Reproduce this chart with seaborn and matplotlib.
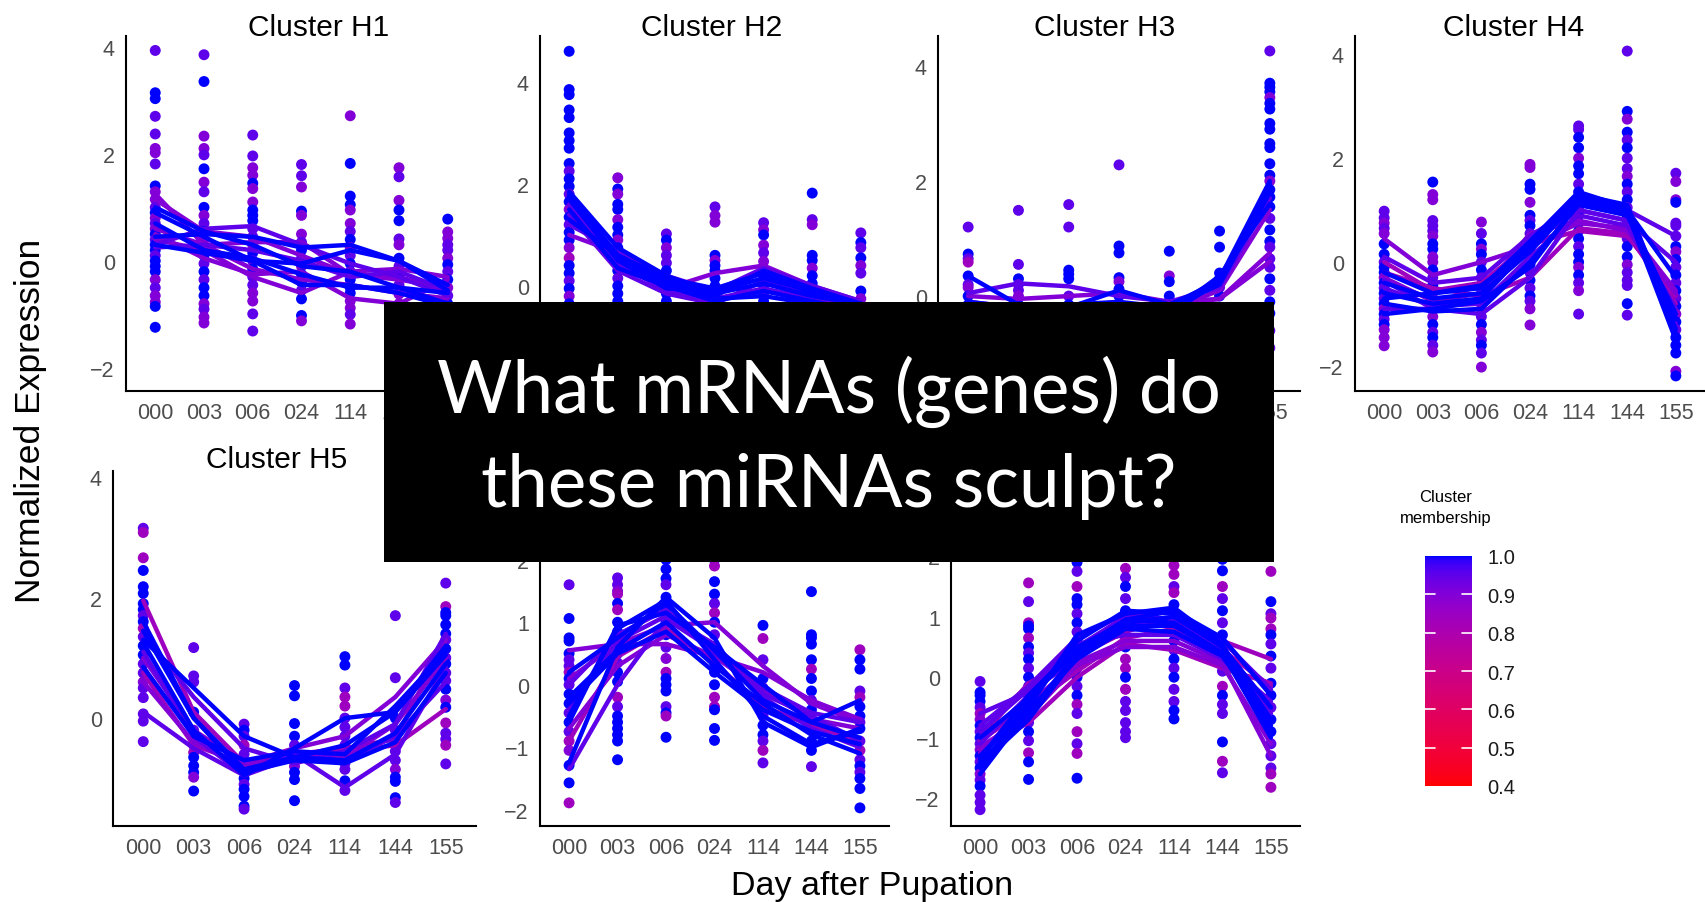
import numpy as np
import pandas as pd
import matplotlib
matplotlib.use("Agg")
import matplotlib.pyplot as plt
import seaborn as sns
from matplotlib.colors import ListedColormap, Normalize
from matplotlib.patches import Rectangle
import matplotlib.cm as cm

# ---------------------------------------------------------------- data
TIMES = ["000", "003", "006", "024", "114", "144", "155"]
CLUSTERS = ["H1", "H2", "H3", "H4", "H5", "H6", "H7"]
# membership codes used below (b = blue, v = violet, p = purple, m = magenta)
MEMBERSHIP_LEVEL = {"b": 1.0, "v": 0.95, "p": 0.9, "m": 0.84}
COLORBAR_TICKS = [0.4, 0.5, 0.6, 0.7, 0.8, 0.9, 1.0]

H1_POINTS = [
    [3.93, 3.14, 3.03, 2.7, 2.37, 2.1, 2.02, 1.81, 1.4, 1.29, 1.15, 1.0, 0.9, 0.8, 0.7, 0.6, 0.5, 0.4, 0.3, 0.2, 0.1, 0.0, -0.1, -0.2, -0.35, -0.5, -0.65, -0.77, -0.85, -1.24],
    [3.85, 3.35, 2.33, 2.1, 1.98, 1.72, 1.47, 1.29, 1.0, 0.85, 0.7, 0.55, 0.4, 0.25, 0.1, -0.05, -0.2, -0.35, -0.5, -0.65, -0.8, -0.9, -1.05, -1.16],
    [2.35, 1.96, 1.74, 1.6, 1.45, 1.35, 1.1, 0.95, 0.85, 0.75, 0.6, 0.45, 0.3, 0.15, 0.0, -0.15, -0.3, -0.45, -0.6, -0.75, -0.99, -1.31],
    [1.8, 1.59, 1.38, 0.93, 0.85, 0.5, 0.35, 0.2, 0.05, -0.1, -0.25, -0.4, -0.55, -0.71, -1.02, -1.12],
    [2.71, 1.82, 1.21, 1.05, 0.95, 0.7, 0.55, 0.4, 0.25, 0.1, -0.05, -0.2, -0.35, -0.5, -0.6, -0.75, -0.88, -1.0, -1.18],
    [1.74, 1.57, 1.13, 0.95, 0.75, 0.41, 0.3, 0.05, -0.1, -0.3, -0.45, -0.62, -0.8, -0.95],
    [0.78, 0.54, 0.42, 0.3, 0.2, 0.05, -0.07, -0.2, -0.35, -0.5, -0.65, -0.8, -0.95, -1.1],
]
H1_POINT_MEMBERSHIP = ["vbbvvppvbppvbpvpbvbbvbbbpvppbb", "vbppvbpvbpvbpvbvbvbbpvpp", "vvppbppbbbvvpbvbvvppvv",
                       "vvpbppvbvpbbvbbp", "pbbbppvbpvbvbbbppvp", "pvpbbvpbvbvppv", "bppvvpbvbpvbvb"]
H1_LINES = [
    [1.25, 0.3, -0.15, -0.35, -0.45, -0.6, -0.7],
    [1.15, 0.55, 0.45, 0.1, -0.25, -0.3, -0.55],
    [1.0, 0.55, 0.3, -0.1, -0.2, -0.5, -0.8],
    [0.9, 0.45, 0.0, -0.45, -0.45, -0.6, -0.85],
    [0.6, 0.3, 0.35, 0.35, -0.25, -0.35, -0.5],
    [0.4, 0.2, -0.3, -0.6, -0.2, -0.15, -0.3],
    [0.45, 0.5, 0.45, 0.25, 0.3, 0.0, -0.45],
    [0.3, 0.15, 0.0, -0.05, 0.2, 0.0, -0.55],
    [0.3, 0.6, 0.65, 0.3, -0.05, -0.3, -0.65],
    [0.7, 0.2, 0.05, -0.25, -0.5, -0.5, -0.6],
    [0.5, 0.05, -0.25, -0.2, -0.7, -0.8, -0.35],
    [0.25, 0.3, 0.2, 0.0, -0.3, -0.2, -0.55],
]
H1_LINE_MEMBERSHIP = "ppbbppbbvbpv"

H2_POINTS = [
    [4.6, 3.85, 3.75, 3.45, 3.3, 3.0, 2.85, 2.7, 2.4, 2.25, 2.1, 1.95, 1.8, 1.65, 1.5, 1.35, 1.2, 1.05, 0.9, 0.75, 0.55, 0.4, 0.25, 0.1, -0.05, -0.2, -0.35, -0.6, -0.9, -1.2, -1.5],
    [2.12, 1.9, 1.8, 1.6, 1.5, 1.3, 1.15, 1.0, 0.9, 0.75, 0.6, 0.45, 0.3, 0.15, 0.0, -0.15, -0.3, -0.6, -0.9, -1.2],
    [1.02, 0.9, 0.75, 0.6, 0.45, 0.3, 0.15, 0.0, -0.15, -0.3, -0.6, -0.9],
    [1.55, 1.38, 1.25, 0.6, 0.5, 0.4, 0.3, 0.15, 0.0, -0.15, -0.3, -0.6, -0.9],
    [1.24, 1.1, 1.0, 0.8, 0.65, 0.48, 0.3, 0.15, 0.0, -0.15, -0.3, -0.6],
    [1.82, 1.3, 1.2, 0.6, 0.5, 0.35, 0.2, 0.05, -0.1, -0.25, -0.5, -0.8],
    [1.04, 0.85, 0.75, 0.55, 0.4, 0.25, -0.1, -0.25, -0.5, -0.8, -1.1],
]
H2_POINT_MEMBERSHIP = ["bbbbbbbbbvbbvbpbvbbpmbbvbpbbvbb", "pbpbbpbbpbvbbvbbbbvb", "vbpvvbbpbbvb",
                       "vppbpbbbbbvbb", "vpbpvpbbbvbb", "bvpbbpbbbvbb", "vbvbpvbpbbv"]
H2_LINES = [
    [1.85, 0.75, 0.2, -0.15, 0.05, -0.2, -0.35],
    [1.8, 0.6, 0.1, -0.2, 0.3, -0.05, -0.35],
    [1.7, 0.5, -0.05, -0.1, 0.15, -0.1, -0.4],
    [1.6, 0.45, -0.1, -0.25, -0.05, -0.25, -0.45],
    [1.5, 0.35, 0.0, -0.3, -0.1, -0.3, -0.5],
    [1.4, 0.3, -0.15, -0.35, 0.1, -0.2, -0.4],
    [1.3, 0.6, 0.15, -0.05, 0.25, -0.15, -0.35],
    [1.0, 0.65, -0.05, 0.25, 0.4, 0.0, -0.3],
    [1.2, 0.7, 0.2, -0.1, 0.35, 0.0, -0.3],
    [1.75, 0.55, 0.05, -0.25, -0.2, -0.35, -0.5],
]
H2_LINE_MEMBERSHIP = "bbbvbvbpvb"

H3_POINTS = [
    [1.2, 0.73, 0.65, 0.59, 0.35, 0.2, 0.15, 0.0, -0.15, -0.3, -0.5, -0.8],
    [1.49, 0.55, 0.3, 0.2, 0.1, 0.0, -0.15, -0.3, -0.6],
    [1.59, 1.2, 0.45, 0.38, 0.3, 0.0, -0.15, -0.3, -0.6],
    [2.28, 0.87, 0.75, 0.32, 0.25, 0.12, 0.0, -0.2, -0.5],
    [0.78, 0.35, 0.25, 0.0, -0.1, -0.25, -0.5],
    [1.13, 0.85, 0.4, 0.3, 0.15, 0.0, -0.2, -0.4],
    [4.26, 3.7, 3.63, 3.55, 3.45, 3.35, 3.25, 3.0, 2.9, 2.65, 2.58, 2.3, 2.1, 2.0, 1.85, 1.72, 1.55, 1.35, 1.15, 0.95, 0.85, 0.65, 0.5, 0.3, 0.1, -0.1, -0.3, -0.6, -0.9],
]
H3_POINT_MEMBERSHIP = ["vbvmbvpbbbvb", "vvbvvpbbb", "vvbbbvbbv", "vbbbpbbbb", "bpbbbvb", "bbbbvbbb",
                       "vbbbpbbbbbbbbpbbbvbbvvvbvbbvv"]
H3_LINES = [
    [0.35, -0.15, -0.2, 0.1, -0.15, 0.25, 1.95],
    [0.05, 0.22, 0.17, 0.0, -0.1, 0.15, 1.7],
    [0.0, -0.05, 0.0, 0.05, -0.1, -0.05, 0.75],
    [-0.1, -0.2, -0.15, -0.1, -0.2, 0.2, 1.8],
    [-0.15, -0.3, -0.25, -0.2, -0.2, 0.3, 2.0],
    [-0.2, -0.25, -0.3, -0.2, -0.25, 0.1, 1.5],
    [-0.25, -0.35, -0.3, -0.3, -0.3, 0.25, 1.85],
    [-0.1, -0.2, -0.2, -0.25, -0.15, -0.05, 0.6],
    [-0.2, -0.3, -0.35, -0.25, -0.3, 0.35, 1.6],
]
H3_LINE_MEMBERSHIP = "bvpbbpbpb"

H4_POINTS = [
    [0.98, 0.85, 0.75, 0.65, 0.55, 0.35, 0.15, 0.0, -0.1, -0.2, -0.3, -0.4, -0.5, -0.6, -0.7, -0.8, -0.9, -1.0, -1.1, -1.2, -1.3, -1.45, -1.61],
    [1.54, 1.3, 1.2, 0.8, 0.7, 0.6, 0.5, 0.35, 0.25, 0.1, 0.0, -0.15, -0.3, -0.45, -0.6, -0.75, -0.9, -1.05, -1.2, -1.35, -1.45, -1.6, -1.73],
    [0.77, 0.55, 0.35, 0.25, 0.15, 0.0, -0.15, -0.3, -0.45, -0.6, -0.75, -0.9, -1.05, -1.2, -1.35, -1.5, -1.6, -1.75, -2.02],
    [1.88, 1.82, 1.5, 1.4, 1.15, 0.9, 0.8, 0.7, 0.55, 0.4, 0.25, 0.1, -0.05, -0.2, -0.35, -0.5, -0.65, -0.75, -0.9, -1.21],
    [2.62, 2.55, 2.4, 2.2, 2.0, 1.85, 1.7, 1.5, 1.35, 1.2, 1.05, 0.9, 0.75, 0.6, 0.45, 0.3, 0.15, 0.0, -0.1, -0.25, -0.4, -0.55, -1.0],
    [4.06, 2.9, 2.75, 2.5, 2.35, 2.2, 2.0, 1.8, 1.65, 1.5, 1.35, 1.2, 1.05, 0.9, 0.75, 0.6, 0.45, 0.3, 0.1, -0.05, -0.2, -0.35, -0.45, -0.8, -1.02],
    [1.71, 1.55, 1.2, 1.15, 0.75, 0.7, 0.5, 0.3, 0.2, 0.05, -0.1, -0.25, -0.4, -0.55, -0.7, -0.85, -1.0, -1.15, -1.3, -1.45, -1.6, -1.75, -2.1, -2.19],
]
H4_POINT_MEMBERSHIP = ["vvpvpbbvbbpbvbvbpbvbppp", "bppvvvpbbppbvbvbppbvbvp", "pvbpbvbvbvbpvbpvbvp",
                       "ppbbpbvbvbbvbvbvbvpp", "vvbbpbbvbbpbvbbvbbpbvpv", "vbpbvbvvpbvbvbvbvbbpvvvbv",
                       "vppbvvvbpbvbvbvbpbvbbbpb"]
H4_LINES = [
    [0.45, -0.25, 0.0, 0.3, 0.75, 0.65, -0.55],
    [-0.2, -0.5, -0.65, -0.3, 0.65, 0.55, -0.8],
    [-0.9, -0.9, -1.0, -0.3, 1.0, 0.8, -1.2],
    [-0.6, -0.8, -0.7, 0.3, 1.3, 1.1, -1.3],
    [-0.4, -0.7, -0.6, 0.2, 1.2, 1.0, -1.1],
    [-0.2, -0.6, -0.5, 0.4, 1.35, 1.05, -1.4],
    [0.1, -0.4, -0.3, 0.5, 1.1, 1.0, 0.5],
    [-0.8, -0.95, -0.9, 0.0, 1.1, 0.9, -1.0],
    [-0.5, -0.85, -0.8, 0.1, 0.9, 0.7, -0.9],
    [-0.3, -0.75, -0.6, 0.55, 0.8, 0.6, -0.6],
    [-0.7, -0.6, -0.45, 0.25, 1.25, 1.0, -0.3],
    [-1.0, -0.9, -0.75, -0.1, 1.15, 0.95, -1.5],
    [0.0, -0.55, -0.4, 0.35, 0.6, 0.5, -0.65],
    [-0.35, -0.9, -0.7, 0.45, 1.0, 0.8, 0.0],
]
H4_LINE_MEMBERSHIP = "pmvbbbvbvpbbmv"

H5_POINTS = [
    [3.15, 3.08, 2.66, 2.45, 2.18, 2.07, 1.9, 1.8, 1.7, 1.6, 1.49, 1.35, 1.2, 1.05, 0.9, 0.75, 0.6, 0.5, 0.34, 0.07, -0.05, -0.39],
    [1.17, 0.7, 0.6, 0.1, -0.2, -0.35, -0.45, -0.57, -0.65, -0.79, -0.9, -0.98, -1.21],
    [-0.1, -0.2, -0.3, -0.45, -0.6, -0.75, -0.85, -1.0, -1.1, -1.18, -1.3, -1.46, -1.51],
    [0.54, 0.37, -0.09, -0.3, -0.45, -0.6, -0.8, -0.9, -1.02, -1.37],
    [1.02, 0.88, 0.5, 0.35, 0.2, 0.0, -0.15, -0.3, -0.45, -0.6, -0.75, -0.85, -1.04, -1.2],
    [1.7, 0.67, 0.0, -0.2, -0.4, -0.55, -0.7, -0.85, -0.98, -1.05, -1.32, -1.4],
    [2.24, 1.85, 1.75, 1.7, 1.55, 1.4, 1.3, 1.15, 1.0, 0.9, 0.75, 0.62, 0.48, 0.3, 0.18, -0.08, -0.25, -0.35, -0.45, -0.76],
]
H5_POINT_MEMBERSHIP = ["vmmbbbbbvbmvbbvvpvvvvv", "vvvbvbmmbbbpb", "vbvmvpbbvbbbv", "bbbbvvpbbb",
                       "bbvmmvvvvbvvbv", "vvbvmvvpbbbv", "vmbbbbvbvbvvbpbmvvmv"]
H5_LINES = [
    [1.95, 0.1, -0.75, -0.6, -0.5, -0.35, 1.3],
    [1.4, 0.35, -0.5, -0.75, -0.55, -0.1, 1.4],
    [1.3, 0.5, -0.3, -0.65, -0.45, 0.1, 1.2],
    [1.25, -0.2, -0.95, -0.5, 0.0, 0.1, 1.05],
    [1.1, -0.3, -0.95, -0.6, -1.15, -0.6, 0.85],
    [0.1, -0.5, -0.95, -0.65, -0.7, -0.3, 0.6],
    [0.6, -0.4, -0.8, -0.6, -0.65, -0.1, 1.0],
    [0.85, -0.3, -0.7, -0.55, -0.6, 0.2, 1.1],
    [1.0, -0.2, -0.75, -0.5, -0.3, 0.35, 1.3],
    [1.45, 0.0, -0.85, -0.65, -0.7, -0.25, 0.9],
    [0.75, -0.45, -0.75, -0.65, -0.55, -0.45, 0.15],
    [1.6, 0.0, -0.9, -0.7, -0.75, -0.4, 0.75],
]
H5_LINE_MEMBERSHIP = "mvbbvvpbpbmb"

H6_POINTS = [
    [1.6, 1.06, 0.75, 0.7, 0.5, 0.4, 0.3, 0.2, 0.1, 0.0, -0.15, -0.3, -0.45, -0.6, -0.75, -0.9, -1.05, -1.29, -1.57, -1.89],
    [1.71, 1.6, 1.5, 1.45, 1.3, 1.2, 1.0, 0.85, 0.7, 0.5, 0.35, 0.2, 0.05, -0.2, -0.35, -0.5, -0.6, -0.7, -0.8, -0.9, -1.2],
    [2.9, 2.6, 2.35, 2.15, 2.0, 1.85, 1.7, 1.6, 1.4, 1.2, 1.0, 0.8, 0.6, 0.42, 0.2, 0.1, 0.0, -0.1, -0.35, -0.45, -0.5, -0.84],
    [2.7, 2.4, 2.15, 2.0, 1.9, 1.65, 1.45, 1.3, 1.15, 1.0, 0.8, 0.6, 0.35, 0.2, 0.0, -0.2, -0.35, -0.4, -0.7, -0.89],
    [0.95, 0.74, 0.4, 0.1, -0.05, -0.2, -0.35, -0.5, -0.65, -0.8, -0.9, -1.05, -1.25],
    [1.49, 0.8, 0.75, 0.65, 0.4, 0.25, 0.1, -0.1, -0.25, -0.4, -0.55, -0.7, -0.9, -1.05, -1.31],
    [0.56, 0.4, 0.25, -0.1, -0.2, -0.35, -0.5, -0.6, -0.7, -0.9, -1.05, -1.2, -1.3, -1.4, -1.5, -1.66, -1.97],
]
H6_POINT_MEMBERSHIP = ["vbbbbvvmbvbbvbvmpbbm", "vvpmbmbbvbvbbmvbbbbbb", "bbbbbbbvbbbbvpmbbbvbmb",
                       "bbbbmbbvmbvbbbbmmbbb", "bmvbvbbvbbvmv", "bbbbbmbbvbvmbbv", "mbbvmbbvbvmvbvbbb"]
H6_LINES = [
    [0.55, 0.65, 0.65, 0.45, 0.2, -0.25, -0.55],
    [-0.9, 0.45, 0.9, 0.35, -0.35, -0.65, -0.9],
    [-1.35, 0.0, 1.05, 0.55, -0.2, -0.7, -1.0],
    [-1.25, 0.6, 1.4, 0.75, -0.6, -1.0, -0.7],
    [0.2, 0.75, 1.3, 0.55, -0.25, -0.6, -0.85],
    [-0.5, 0.9, 1.35, 0.4, -0.5, -0.95, -0.75],
    [-0.2, 0.55, 1.0, 0.3, -0.3, -0.8, -1.1],
    [0.0, 0.8, 1.2, 0.5, -0.05, -0.45, -0.6],
    [-0.3, 0.5, 0.85, 0.2, -0.4, -0.75, -0.95],
    [-0.7, 0.3, 0.8, 0.45, -0.1, -0.55, -0.7],
    [0.1, 0.65, 0.95, 1.0, 0.3, -0.3, -0.6],
    [-0.6, 0.95, 1.15, 0.6, 0.0, -0.6, -0.25],
    [-0.4, 0.7, 1.1, 0.65, -0.15, -0.5, -0.9],
]
H6_LINE_MEMBERSHIP = "pmvbbbbvbppbv"

H7_POINTS = [
    [-0.07, -0.25, -0.3, -0.4, -0.5, -0.6, -0.7, -0.8, -0.9, -1.0, -1.1, -1.2, -1.3, -1.4, -1.5, -1.6, -1.7, -1.8, -1.95, -2.07, -2.19],
    [1.56, 1.25, 0.9, 0.85, 0.8, 0.65, 0.5, 0.4, 0.3, 0.15, 0.0, -0.15, -0.3, -0.45, -0.6, -0.75, -0.9, -1.05, -1.25, -1.4, -1.69],
    [2.7, 2.4, 2.1, 1.9, 1.75, 1.5, 1.3, 1.2, 1.05, 0.9, 0.75, 0.6, 0.45, 0.3, 0.15, 0.0, -0.15, -0.3, -0.45, -0.6, -0.9, -1.1, -1.26, -1.67],
    [2.8, 2.5, 2.2, 2.0, 1.8, 1.65, 1.5, 1.3, 1.1, 0.95, 0.8, 0.65, 0.5, 0.3, 0.15, 0.0, -0.2, -0.4, -0.55, -0.75, -0.9, -1.0],
    [2.9, 2.6, 2.3, 2.05, 1.85, 1.7, 1.5, 1.4, 1.2, 1.05, 0.9, 0.75, 0.6, 0.45, 0.3, 0.15, 0.0, -0.2, -0.4, -0.55, -0.69],
    [2.6, 2.2, 1.95, 1.76, 1.5, 1.3, 1.1, 0.9, 0.7, 0.5, 0.3, 0.1, -0.15, -0.3, -0.45, -0.6, -1.07, -1.39, -1.58],
    [1.75, 1.25, 1.05, 0.98, 0.8, 0.7, 0.55, 0.35, 0.15, -0.1, -0.3, -0.5, -0.7, -0.9, -1.1, -1.3, -1.5, -1.6, -1.82],
]
H7_POINT_MEMBERSHIP = ["vbbbvmpbvbvpbvbpvbvvv", "mvmbbmbvbvbvbpbvbvmbb", "bbvbvmbbvbvbvbvbvbmvmvmb",
                       "bbvbmvbvbvbvbmmbmvvvvv", "vmbvmmvmbvbvbvbvbvvbb", "bbbbmvbvbvbvmbvvbmv",
                       "mbvmmbvbvbbvbbvvvmm"]
H7_LINES = [
    [-0.6, -0.25, 0.3, 0.9, 0.95, 0.5, -0.5],
    [-1.0, -0.1, 0.35, 0.75, 1.0, 0.6, 0.3],
    [-1.2, -0.75, 0.0, 0.55, 0.45, 0.15, -0.1],
    [-1.5, -0.4, 0.6, 1.1, 1.05, 0.5, -0.7],
    [-1.3, -0.5, 0.7, 1.05, 1.15, 0.55, -0.9],
    [-1.1, -0.3, 0.5, 1.0, 0.9, 0.45, -0.6],
    [-1.4, -0.6, 0.4, 0.85, 0.85, 0.4, -1.0],
    [-0.9, -0.2, 0.55, 0.7, 0.7, 0.3, -0.4],
    [-1.25, -0.45, 0.25, 0.6, 0.6, 0.25, -1.3],
    [-1.0, -0.35, 0.45, 0.95, 1.1, 0.65, -0.3],
    [-1.6, -0.55, 0.3, 0.8, 0.75, 0.35, -0.8],
    [-0.8, -0.15, 0.65, 1.05, 0.95, 0.6, -0.2],
    [-1.15, -0.65, 0.2, 0.5, 0.5, 0.2, -1.1],
    [-1.35, -0.3, 0.5, 0.9, 1.0, 0.5, -0.5],
    [-1.05, -0.5, 0.1, 0.65, 0.8, 0.45, -0.15],
    [-1.45, -0.7, 0.35, 0.95, 0.9, 0.4, -0.7],
]
H7_LINE_MEMBERSHIP = "vmmbbvbvpbbvpbmb"

CLUSTER_DATA = {
    "H1": (H1_POINTS, H1_POINT_MEMBERSHIP, H1_LINES, H1_LINE_MEMBERSHIP),
    "H2": (H2_POINTS, H2_POINT_MEMBERSHIP, H2_LINES, H2_LINE_MEMBERSHIP),
    "H3": (H3_POINTS, H3_POINT_MEMBERSHIP, H3_LINES, H3_LINE_MEMBERSHIP),
    "H4": (H4_POINTS, H4_POINT_MEMBERSHIP, H4_LINES, H4_LINE_MEMBERSHIP),
    "H5": (H5_POINTS, H5_POINT_MEMBERSHIP, H5_LINES, H5_LINE_MEMBERSHIP),
    "H6": (H6_POINTS, H6_POINT_MEMBERSHIP, H6_LINES, H6_LINE_MEMBERSHIP),
    "H7": (H7_POINTS, H7_POINT_MEMBERSHIP, H7_LINES, H7_LINE_MEMBERSHIP),
}

# ------------------------------------------------------------ build tables
pt_rows, ln_rows = [], []
for cl in CLUSTERS:
    pts, pmem, lines, lmem = CLUSTER_DATA[cl]
    for ti, (vals, codes) in enumerate(zip(pts, pmem)):
        if len(vals) != len(codes):
            raise ValueError(f"{cl} time {TIMES[ti]}: {len(vals)} values vs {len(codes)} codes")
        for v, c in zip(vals, codes):
            pt_rows.append((cl, ti, v, MEMBERSHIP_LEVEL[c]))
    if len(lines) != len(lmem):
        raise ValueError(f"{cl} lines mismatch")
    for gi, (prof, c) in enumerate(zip(lines, lmem)):
        for ti, v in enumerate(prof):
            ln_rows.append((cl, f"{cl}_g{gi}", ti, v, MEMBERSHIP_LEVEL[c]))
df_pts = pd.DataFrame(pt_rows, columns=["cluster", "t", "value", "membership"])
df_lines = pd.DataFrame(ln_rows, columns=["cluster", "gene", "t", "value", "membership"])

# ------------------------------------------------ colour ramp (CIELAB, like ggplot)
_M = np.array([[0.4124, 0.3576, 0.1805], [0.2126, 0.7152, 0.0722], [0.0193, 0.1192, 0.9505]])
_WHITE = np.array([0.95047, 1.0, 1.08883])


def rgb2lab(rgb):
    c = np.asarray(rgb, float)
    lin = np.where(c <= 0.04045, c / 12.92, ((c + 0.055) / 1.055) ** 2.4)
    xyz = _M @ lin / _WHITE
    f = np.where(xyz > 0.008856, np.cbrt(xyz), 7.787 * xyz + 16 / 116)
    return np.array([116 * f[1] - 16, 500 * (f[0] - f[1]), 200 * (f[1] - f[2])])


def lab2rgb(lab):
    L, a, b = lab
    fy = (L + 16) / 116
    f = np.array([fy + a / 500, fy, fy - b / 200])
    xyz = np.where(f ** 3 > 0.008856, f ** 3, (f - 16 / 116) / 7.787) * _WHITE
    lin = np.linalg.solve(_M, xyz)
    lin = np.clip(lin, 0, 1)
    srgb = np.where(lin <= 0.0031308, 12.92 * lin, 1.055 * lin ** (1 / 2.4) - 0.055)
    return np.clip(srgb, 0, 1)


lab_lo, lab_hi = rgb2lab([1, 0, 0]), rgb2lab([0, 0, 1])
ramp = [lab2rgb(lab_lo + (lab_hi - lab_lo) * s) for s in np.linspace(0, 1, 256)]
cmap = ListedColormap(ramp)
norm = Normalize(0.4, 1.0)

# ---------------------------------------------------------------- figure
sns.set_style("white")
plt.rcParams["font.family"] = ["Liberation Sans", "DejaVu Sans"]
W, H = 1706, 903
fig = plt.figure(figsize=(W / 100, H / 100), dpi=100)
fig.patch.set_facecolor("white")

BOX = (384, 303, 1274, 563)  # left, top, right, bottom in pixels


def px_rect(l, r, t, b):
    return [l / W, 1 - b / H, (r - l) / W, (b - t) / H]


PANELS = {
    "H1": dict(rect=(126, 477, 37, 392), ylim=(-2.43, 4.2), yt=[-2, 0, 2, 4], title=(319, 36)),
    "H2": dict(rect=(540, 890, 37, 392), ylim=(-2.06, 4.9), yt=[-2, 0, 2, 4], title=(712, 36)),
    "H3": dict(rect=(938, 1300, 37, 392), ylim=(-1.65, 4.52), yt=[0, 2, 4], title=(1105, 36)),
    "H4": dict(rect=(1355, 1705, 37, 392), ylim=(-2.48, 4.35), yt=[-2, 0, 2, 4], title=(1514, 36)),
    "H5": dict(rect=(113, 476, 472, 827), ylim=(-1.79, 4.1), yt=[0, 2, 4], title=(277, 468)),
    "H6": dict(rect=(540, 889, 472, 827), ylim=(-2.26, 3.42), yt=[-2, -1, 0, 1, 2, 3], title=(700, 468)),
    "H7": dict(rect=(951, 1300, 472, 827), ylim=(-2.46, 3.41), yt=[-2, -1, 0, 1, 2, 3], title=(1110, 468)),
}

axes = []
for cl in CLUSTERS:
    p = PANELS[cl]
    ax = fig.add_axes(px_rect(*p["rect"]))
    axes.append(ax)
    dp = df_pts[df_pts.cluster == cl]
    dl = df_lines[df_lines.cluster == cl].sort_values(["membership", "gene", "t"])
    sns.scatterplot(data=dp, x="t", y="value", hue="membership", palette=cmap, hue_norm=norm,
                    s=62, linewidth=0, legend=False, ax=ax, zorder=2)
    sns.lineplot(data=dl, x="t", y="value", hue="membership", units="gene", estimator=None,
                 palette=cmap, hue_norm=norm, lw=3.2, legend=False, sort=False, ax=ax, zorder=3)
    ax.set_xlim(-0.6, 6.6)
    ax.set_ylim(*p["ylim"])
    ax.set_xticks(range(len(TIMES)))
    ax.set_xticklabels(TIMES)
    ax.set_yticks(p["yt"])
    ax.set_xlabel("")
    ax.set_ylabel("")
    for s in ["top", "right"]:
        ax.spines[s].set_visible(False)
    for s in ["left", "bottom"]:
        ax.spines[s].set_color("black")
        ax.spines[s].set_linewidth(1.5)
    ax.tick_params(axis="both", direction="out", length=5, width=1.1, color="#333333",
                   labelsize=15.5, labelcolor="#4D4D4D", pad=3)
    ax.set_facecolor("none")
    tx, ty = p["title"]
    # titles that sit completely under the overlay box are not visible in the reference
    if not (BOX[0] < tx - 70 and tx + 70 < BOX[2] and BOX[1] < ty - 22 and ty < BOX[3]):
        fig.text(tx / W, 1 - ty / H, f"Cluster {cl}", ha="center", va="baseline", fontsize=21.5, color="black")

fig.text(31 / W, 1 - 421 / H, "Normalized Expression", rotation=90, ha="center", va="center",
         fontsize=25.5, color="black")
fig.text(872 / W, 1 - 895 / H, "Day after Pupation", ha="center", va="baseline", fontsize=24.5, color="black")

# ---------------------------------------------------------------- colourbar
cax = fig.add_axes(px_rect(1425, 1472, 557, 787))
cb = fig.colorbar(cm.ScalarMappable(norm=norm, cmap=cmap), cax=cax)
cb.outline.set_visible(False)
cb.set_ticks(COLORBAR_TICKS)
cb.set_ticklabels([f"{v:.1f}" for v in COLORBAR_TICKS])
cax.tick_params(length=0, labelsize=14.5, pad=11, labelcolor="#1A1A1A")
for v in COLORBAR_TICKS[1:-1]:
    cax.plot([0, 0.21], [v, v], color="white", lw=1.2, transform=cax.get_yaxis_transform())
    cax.plot([0.79, 1], [v, v], color="white", lw=1.2, transform=cax.get_yaxis_transform())
fig.text(1446 / W, 1 - 498 / H, "Cluster", ha="center", va="center", fontsize=12, color="black")
fig.text(1446 / W, 1 - 519 / H, "membership", ha="center", va="center", fontsize=12, color="black")

# hide tick labels that lie entirely beneath the overlay box (they are invisible there)
fig.canvas.draw()
renderer = fig.canvas.get_renderer()
for ax in axes:
    for lab in ax.get_xticklabels() + ax.get_yticklabels():
        bb = lab.get_window_extent(renderer)
        x0, x1 = bb.x0, bb.x1
        y0, y1 = H - bb.y1, H - bb.y0
        if x0 >= BOX[0] and x1 <= BOX[2] and y0 >= BOX[1] and y1 <= BOX[3]:
            lab.set_visible(False)

# ---------------------------------------------------------------- overlay box
ov = fig.add_axes([0, 0, 1, 1], zorder=20)
ov.set_xlim(0, W)
ov.set_ylim(H, 0)
ov.axis("off")
ov.patch.set_alpha(0)
ov.add_patch(Rectangle((BOX[0], BOX[1]), BOX[2] - BOX[0], BOX[3] - BOX[1], facecolor="black", edgecolor="none"))
ov.text(829, 413, "What mRNAs (genes) do", color="white", fontsize=52.5, family="Lato",
        ha="center", va="baseline")
ov.text(829, 507, "these miRNAs sculpt?", color="white", fontsize=52.5, family="Lato",
        ha="center", va="baseline")

fig.savefig("out.png", dpi=100, facecolor="white")
